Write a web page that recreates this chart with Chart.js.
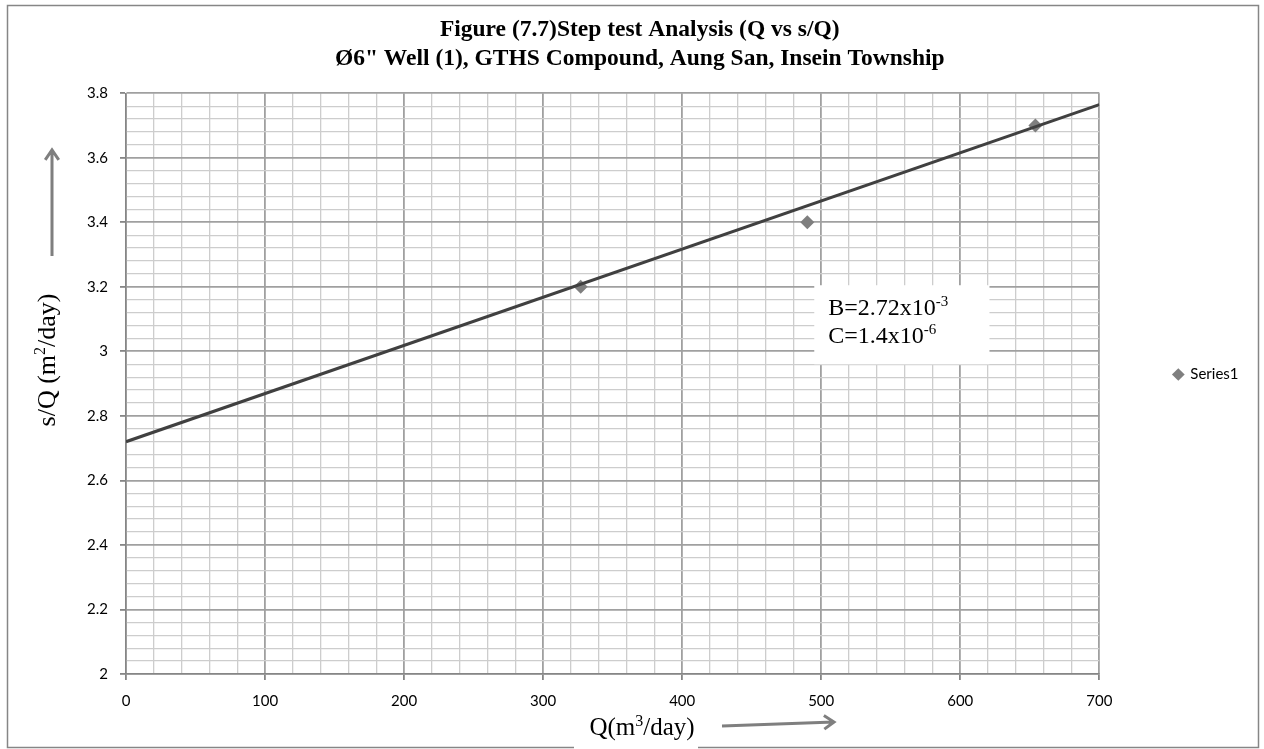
<!DOCTYPE html>
<html>
<head>
<meta charset="utf-8">
<script src="https://cdn.jsdelivr.net/npm/chart.js@4.4.0/dist/chart.umd.min.js"></script>
<style>
  html, body { margin: 0; padding: 0; background: #fff; }
</style>
</head>
<body>
<canvas id="chart" width="1264" height="749"></canvas>
<script>
// step test readings
const discharge = [327, 490, 654];        // Q (m3/day)
const specificDrawdown = [3.2, 3.4, 3.7]; // s/Q
// straight line drawn through the points
const trendQ = [0, 700];
const trendSQ = [2.72, 3.765];

const xTickLabels = [0, 100, 200, 300, 400, 500, 600, 700];
const yTickLabels = [2, 2.2, 2.4, 2.6, 2.8, 3, 3.2, 3.4, 3.6, 3.8];
const titleLines = [
  'Figure (7.7)Step test Analysis (Q vs s/Q)',
  'Ø6" Well (1), GTHS Compound, Aung San, Insein Township'
];
const coefficients = [['B=2.72x10', '-3'], ['C=1.4x10', '-6']];
const xTitle = [['Q(m', false], ['3', true], ['/day)', false]];
const yTitle = [['s/Q (m', false], ['2', true], ['/day)', false]];

const SERIF = '"Liberation Serif", "Times New Roman", serif';
const SANS = 'Lato, "Open Sans", sans-serif';

function onStep(v, step) {
  return Math.abs(v / step - Math.round(v / step)) < 1e-6;
}

function drawRich(ctx, parts, x, y, size, align) {
  const supSize = Math.round(size * 0.62);
  let total = 0;
  const widths = parts.map(function(p) {
    ctx.font = (p[1] ? supSize : size) + 'px ' + SERIF;
    const w = ctx.measureText(p[0]).width;
    total += w;
    return w;
  });
  let cx = align === 'center' ? x - total / 2 : x;
  ctx.fillStyle = '#000';
  ctx.textAlign = 'left';
  ctx.textBaseline = 'alphabetic';
  parts.forEach(function(p, i) {
    ctx.font = (p[1] ? supSize : size) + 'px ' + SERIF;
    ctx.fillText(p[0], cx, p[1] ? y - size * 0.38 : y);
    cx += widths[i];
  });
}

function arrow(ctx, x1, y1, x2, y2) {
  const a = Math.atan2(y2 - y1, x2 - x1);
  ctx.beginPath();
  ctx.moveTo(x1, y1);
  ctx.lineTo(x2, y2);
  ctx.moveTo(x2 - 12 * Math.cos(a - 0.6), y2 - 12 * Math.sin(a - 0.6));
  ctx.lineTo(x2, y2);
  ctx.lineTo(x2 - 12 * Math.cos(a + 0.6), y2 - 12 * Math.sin(a + 0.6));
  ctx.stroke();
}

const decor = {
  id: 'decor',
  beforeDraw(chart) {
    const ctx = chart.ctx;
    ctx.save();
    ctx.fillStyle = '#fff';
    ctx.fillRect(0, 0, chart.width, chart.height);
    ctx.restore();
  },
  beforeDatasetsDraw(chart) {
    const ctx = chart.ctx, x = chart.scales.x, y = chart.scales.y;
    const left = x.getPixelForValue(495), right = x.getPixelForValue(621);
    const top = y.getPixelForValue(3.205), bottom = y.getPixelForValue(2.96);
    ctx.save();
    ctx.fillStyle = '#fff';
    ctx.fillRect(left, top, right - left, bottom - top);
    coefficients.forEach(function(c, i) {
      drawRich(ctx, [[c[0], false], [c[1], true]], left + 14, top + 30 + i * 28, 24, 'left');
    });
    ctx.restore();
  },
  afterDraw(chart) {
    const ctx = chart.ctx;
    ctx.save();
    // frame
    ctx.strokeStyle = '#868686';
    ctx.lineWidth = 1.5;
    ctx.strokeRect(7.5, 5.5, 1251, 742);
    // x title sits on a white box over the frame
    ctx.fillStyle = '#fff';
    ctx.fillRect(574, 710, 124, 39);
    drawRich(ctx, xTitle, 642, 735, 25, 'center');
    ctx.translate(47, 360);
    ctx.rotate(-Math.PI / 2);
    drawRich(ctx, yTitle, 0, 8, 26, 'center');
    ctx.restore();

    ctx.save();
    ctx.strokeStyle = '#7f7f7f';
    ctx.lineWidth = 3;
    arrow(ctx, 52, 256, 52, 150);
    arrow(ctx, 722, 726, 834, 722);
    ctx.restore();
  }
};

new Chart(document.getElementById('chart'), {
  type: 'scatter',
  data: {
    datasets: [{
      label: 'Series1',
      data: discharge.map(function(q, i) { return {x: q, y: specificDrawdown[i]}; }),
      pointStyle: 'rectRot',
      pointRadius: 7,
      pointHoverRadius: 7,
      backgroundColor: '#7f7f7f',
      borderColor: '#7f7f7f',
      borderWidth: 0,
      order: 1
    }, {
      label: 'Trend',
      data: trendQ.map(function(q, i) { return {x: q, y: trendSQ[i]}; }),
      showLine: true,
      borderColor: '#404040',
      borderWidth: 3,
      pointRadius: 0,
      order: 0
    }]
  },
  options: {
    responsive: false,
    animation: false,
    layout: { padding: { top: 0, left: 31, bottom: 0, right: 15.5 } },
    plugins: {
      title: {
        display: true,
        text: titleLines,
        color: '#000',
        font: { family: SERIF, size: 23.5, weight: 'bold', lineHeight: 1.24 },
        padding: { top: 15, bottom: 20 }
      },
      legend: {
        position: 'right',
        labels: {
          usePointStyle: true,
          boxWidth: 9,
          boxHeight: 9,
          padding: 74.5,
          color: '#000',
          font: { family: SANS, size: 15 },
          filter: function(item) { return item.datasetIndex === 0; }
        }
      },
      tooltip: { enabled: false }
    },
    scales: {
      x: {
        type: 'linear',
        min: 0,
        max: 700,
        afterFit: function(s) { s.height = 75; },
        ticks: {
          stepSize: 20,
          autoSkip: false,
          maxRotation: 0,
          padding: 12,
          color: '#000',
          font: { family: SANS, size: 15 },
          callback: function(v) { return xTickLabels.indexOf(v) >= 0 ? String(v) : ''; }
        },
        grid: {
          color: function(c) { return c.tick && onStep(c.tick.value, 100) ? '#a0a0a0' : '#cdcdcd'; },
          lineWidth: function(c) { return c.tick && onStep(c.tick.value, 100) ? 1.8 : 1.3; },
          tickLength: 6,
          tickColor: function(c) { return c.tick && onStep(c.tick.value, 100) ? '#868686' : 'rgba(0,0,0,0)'; }
        },
        border: { color: '#868686', width: 1.5 }
      },
      y: {
        type: 'linear',
        min: 2,
        max: 3.8,
        afterFit: function(s) { s.width = 95; },
        ticks: {
          stepSize: 0.04,
          autoSkip: false,
          padding: 12,
          color: '#000',
          font: { family: SANS, size: 15 },
          callback: function(v) {
            const t = yTickLabels.find(function(l) { return Math.abs(l - v) < 1e-6; });
            return t === undefined ? '' : String(t);
          }
        },
        grid: {
          color: function(c) { return c.tick && onStep(c.tick.value, 0.2) ? '#a0a0a0' : '#cdcdcd'; },
          lineWidth: function(c) { return c.tick && onStep(c.tick.value, 0.2) ? 1.8 : 1.3; },
          tickLength: 6,
          tickColor: function(c) { return c.tick && onStep(c.tick.value, 0.2) ? '#868686' : 'rgba(0,0,0,0)'; }
        },
        border: { color: '#868686', width: 1.5 }
      }
    }
  },
  plugins: [decor]
});
</script>
</body>
</html>
